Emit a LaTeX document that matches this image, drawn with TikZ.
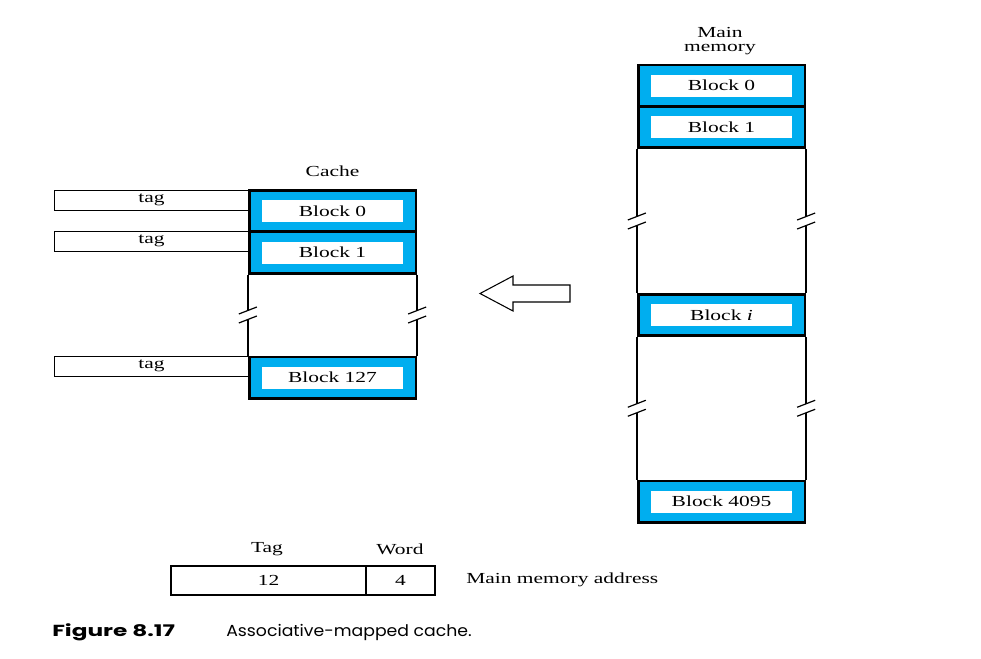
\documentclass[tikz,border=0pt]{standalone}
\usepackage{fontspec}
\setmainfont{Liberation Serif}[FakeStretch=1.4]
\newfontfamily\capfont{Poppins}[FakeStretch=1.08]
\newfontfamily\figfont{Poppins}[FakeStretch=1.45]
\usetikzlibrary{calc}
\definecolor{blockblue}{RGB}{0,174,239}
\tikzset{
  frame/.style={draw, line width=2pt, fill=blockblue, minimum width=125pt, minimum height=31pt, inner sep=0pt},
  lbl/.style={fill=white, minimum width=106pt, minimum height=16.5pt, inner sep=0pt, font=\fontsize{11.5}{13}\selectfont},
  tagbox/.style={draw, line width=0.8pt, minimum width=146pt, minimum height=15.5pt, inner sep=0pt},
  txt/.style={font=\fontsize{11.5}{13}\selectfont, inner sep=0pt},
  side/.style={line width=1.4pt},
  addr/.style={draw, line width=2pt, minimum height=21.75pt, inner sep=0pt, outer sep=0pt, font=\fontsize{11.5}{13}\selectfont},
  brk/.pic={
    \fill[white] (-9,-1) -- (9,-8) -- (9,1) -- (-9,8) -- cycle;
    \draw[line width=0.9pt] (-9,-1) -- (9,-8);
    \draw[line width=0.9pt] (-9,8) -- (9,1);
  }
}
\begin{document}
\begin{tikzpicture}[x=0.75pt,y=-0.75pt]
\useasboundingbox (0,0) rectangle (981,658);
% cache
\node[txt] (cachettl) at (332.5,171) {Cache};
\node[frame] (c0) at (332.5,211) {};
\node[lbl] at (c0) {Block 0};
\node[frame] (c1) at (332.5,252.5) {};
\node[lbl] at (c1) {Block 1};
\node[frame] (c127) at (332.5,377.5) {};
\node[lbl] at (c127) {Block 127};
\draw[side] (c1.south west) -- (c127.north west);
\draw[side] (c1.south east) -- (c127.north east);
\pic at ($(c1.south west)!.5!(c127.north west)$) {brk};
\pic at ($(c1.south east)!.5!(c127.north east)$) {brk};
% tags
\node[tagbox] (t0) at (151.5,200.5) {};
\node[txt] at (151.5,200) {tag};
\node[tagbox] (t1) at (151.5,241.5) {};
\node[txt] at (151.5,241) {tag};
\node[tagbox] (t127) at (151.5,366.5) {};
\node[txt] at (151.5,366) {tag};
% main memory
\node[txt, align=center] (memttl) at (720,41) {Main\\[-3pt]memory};
\node[frame] (m0) at (721.5,85.5) {};
\node[lbl] at (m0) {Block 0};
\node[frame] (m1) at (721.5,127) {};
\node[lbl] at (m1) {Block 1};
\node[frame] (mi) at (721.5,315) {};
\node[lbl] at (mi) {Block \textit{i}};
\node[frame] (m4095) at (721.5,501.5) {};
\node[lbl] at (m4095) {Block 4095};
\draw[side] (m1.south west) -- (mi.north west);
\draw[side] (m1.south east) -- (mi.north east);
\draw[side] (mi.south west) -- (m4095.north west);
\draw[side] (mi.south east) -- (m4095.north east);
\pic at ($(m1.south west)!.5!(mi.north west)$) {brk};
\pic at ($(m1.south east)!.5!(mi.north east)$) {brk};
\pic at ($(mi.south west)!.5!(m4095.north west)$) {brk};
\pic at ($(mi.south east)!.5!(m4095.north east)$) {brk};
% hollow arrow
\draw[line width=0.8pt, line join=miter] (570,285) -- (513,285) -- (513,276) -- (480,293.5)
  -- (513,311) -- (513,302) -- (570,302) -- cycle;
% address
\node[addr, minimum width=146.25pt] (tagf) at (268.5,580.5) {12};
\node[addr, minimum width=51.75pt, anchor=west] (wordf) at (tagf.east) {4};
\node[txt] at (267,549) {Tag};
\node[txt] at (400,549) {Word};
\node[txt, anchor=west] (addrlbl) at (466,580) {Main memory address};
% caption
\node[anchor=west, inner sep=0pt, font=\figfont\bfseries\fontsize{12}{14}\selectfont] (fig) at (52,632) {Figure 8.17};
\node[anchor=west, inner sep=0pt, font=\capfont\fontsize{12}{14}\selectfont] (cap) at (226,632) {Associative-mapped cache.};
\end{tikzpicture}
\end{document}
